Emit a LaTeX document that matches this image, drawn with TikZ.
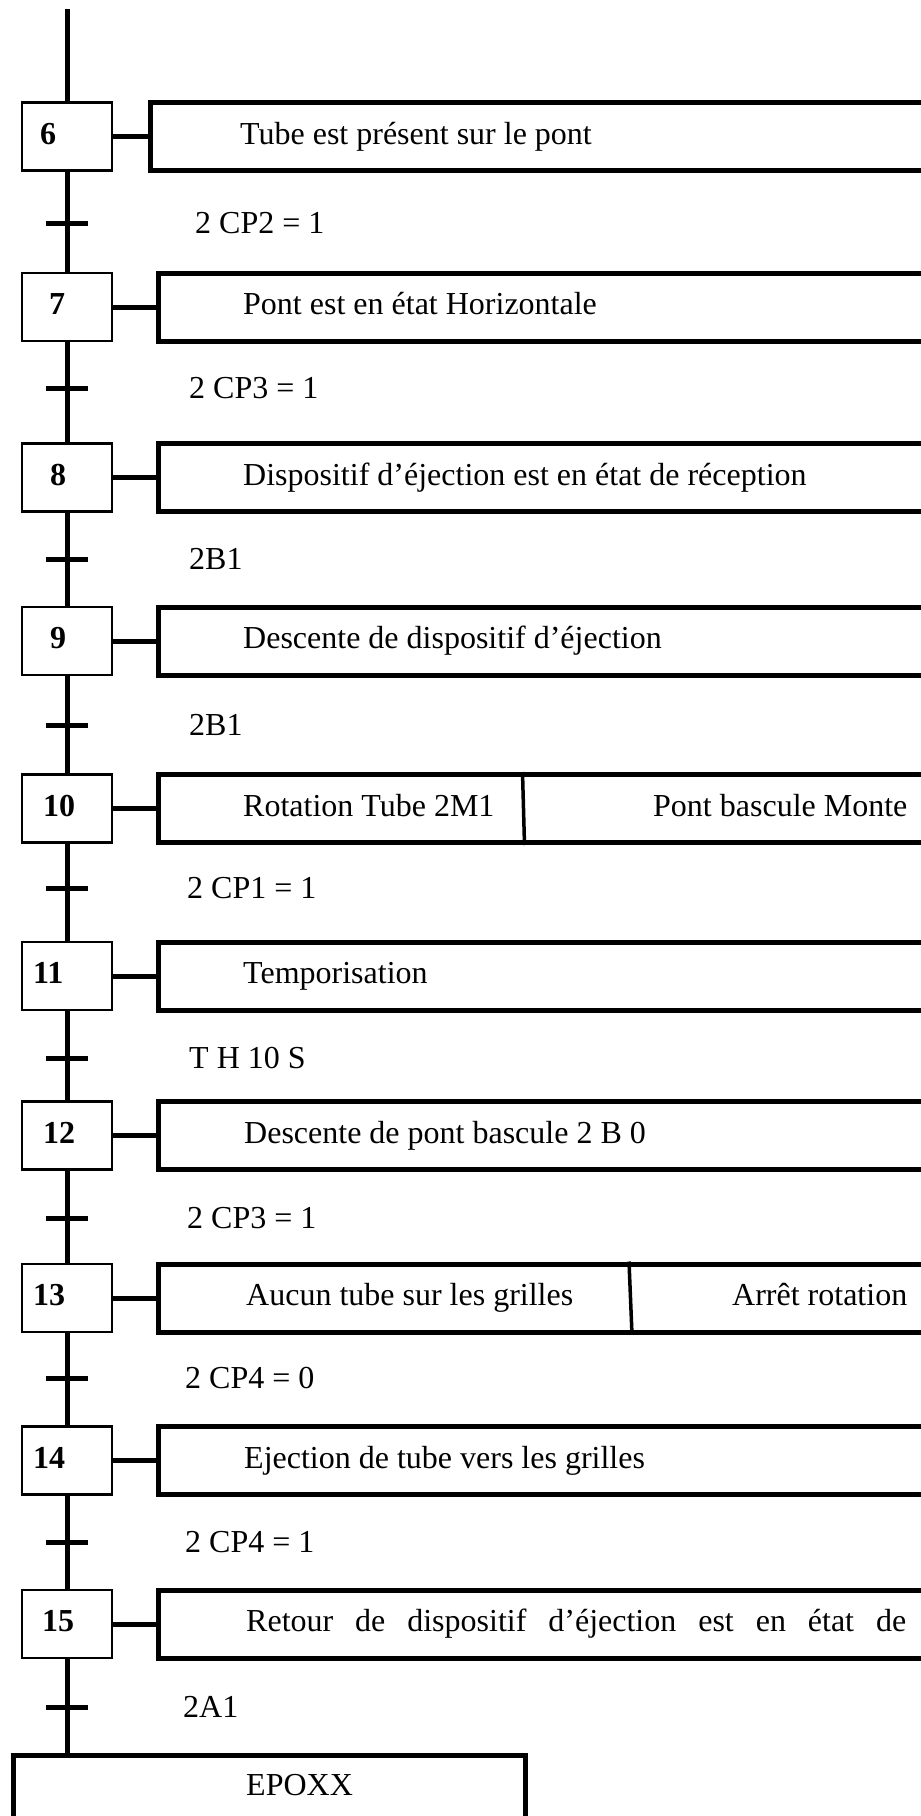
\documentclass[tikz,border=0pt]{standalone}
\usepackage{fontspec}
\setmainfont{Liberation Serif}
\begin{document}
\begin{tikzpicture}[x=1pt,y=-1pt,
  stepbox/.style={draw, line width=2.5pt, fill=white, minimum width=90pt, minimum height=68pt, inner sep=0pt},
  actbox/.style={draw, line width=5pt, minimum height=68pt, minimum width=820pt, inner sep=0pt, anchor=west},
  endbox/.style={draw, line width=4.5pt, minimum width=512pt, minimum height=100pt, inner sep=0pt, anchor=north west},
  link/.style={line width=5pt},
  tickbar/.style={line width=5pt},
  divider/.style={line width=3.5pt},
  num/.style={font=\bfseries\fontsize{32}{38}\selectfont, anchor=base west, inner sep=0pt},
  txt/.style={font=\fontsize{32}{38}\selectfont, anchor=base west, inner sep=0pt}]
\clip (0,0) rectangle (921,1816);
\useasboundingbox (0,0) rectangle (921,1816);
\fill[white] (0,0) rectangle (921,1816);
% top free end
\coordinate (top) at (67,9);
% steps and action boxes
\foreach \n/\y/\nx/\al in {6/136.5/40/148, 7/307/49/155.5, 8/477.5/50/155.5, 9/641/50/155.5,
  10/808.5/43/155.5, 11/976/33/155.5, 12/1135.5/43/155.5, 13/1298/33/155.5, 14/1460.5/33/155.5, 15/1624/42/155.5}{
  \node[stepbox] (s\n) at (67,\y) {};
  \node[num] (n\n) at (\nx,\y+7.5) {\n};
  \node[actbox] (a\n) at (\al,\y) {};
  \draw[link] (s\n.east) -- (a\n.west);
}
% end box
\node[endbox] (ep) at (11,1753) {};
\node[txt] (eptxt) at (246,1795) {EPOXX};
% vertical links
\draw[link] (top) -- (s6.north);
\foreach \a/\b in {6/7,7/8,8/9,9/10,10/11,11/12,12/13,13/14,14/15}{
  \draw[link] (s\a.south) -- (s\b.north);
}
\draw[link] (s15.south) -- (s15.south |- ep.north);
% transitions
\foreach \i/\ty/\lx/\lab in {1/223/195/{2 CP2 = 1}, 2/388/189/{2 CP3 = 1}, 3/559/189/{2B1}, 4/725/189/{2B1},
  5/888/187/{2 CP1 = 1}, 6/1058/189/{T H 10 S}, 7/1218/187/{2 CP3 = 1}, 8/1378/185/{2 CP4 = 0},
  9/1542/185/{2 CP4 = 1}, 10/1707/183/{2A1}}{
  \coordinate (t\i) at (67,\ty);
  \draw[tickbar] ([xshift=-21pt]t\i) -- ([xshift=21pt]t\i);
  \node[txt] (l\i) at (\lx,\ty+10) {\lab};
}
% action texts
\node[txt] (x6) at (240,144) {Tube est présent sur le pont};
\node[txt] (x7) at (243,314.5) {Pont est en état Horizontale};
\node[txt] (x8) at (243,485) {Dispositif d’éjection est en état de réception};
\node[txt] (x9) at (243,648.5) {Descente de dispositif d’éjection};
\node[txt] (x10a) at (243,816) {Rotation Tube 2M1};
\node[txt] (x10b) at (653,816) {Pont bascule Monte};
\node[txt] (x11) at (243,983.5) {Temporisation};
\node[txt] (x12) at (244,1143) {Descente de pont bascule 2 B 0};
\node[txt] (x13a) at (246,1305.5) {Aucun tube sur les grilles};
\node[txt] (x13b) at (732,1305.5) {Arrêt rotation};
\node[txt] (x14) at (244,1468) {Ejection de tube vers les grilles};
\node[txt] (x15) at (246,1631.5) {\makebox[660pt][s]{Retour de dispositif d’éjection est en état de}};
% dividers
\draw[divider] ([xshift=367pt]a10.north west) -- ([xshift=369pt]a10.south west);
\draw[divider] ([xshift=473.5pt]a13.north west) -- ([xshift=476.5pt]a13.south west);
\end{tikzpicture}
\end{document}
